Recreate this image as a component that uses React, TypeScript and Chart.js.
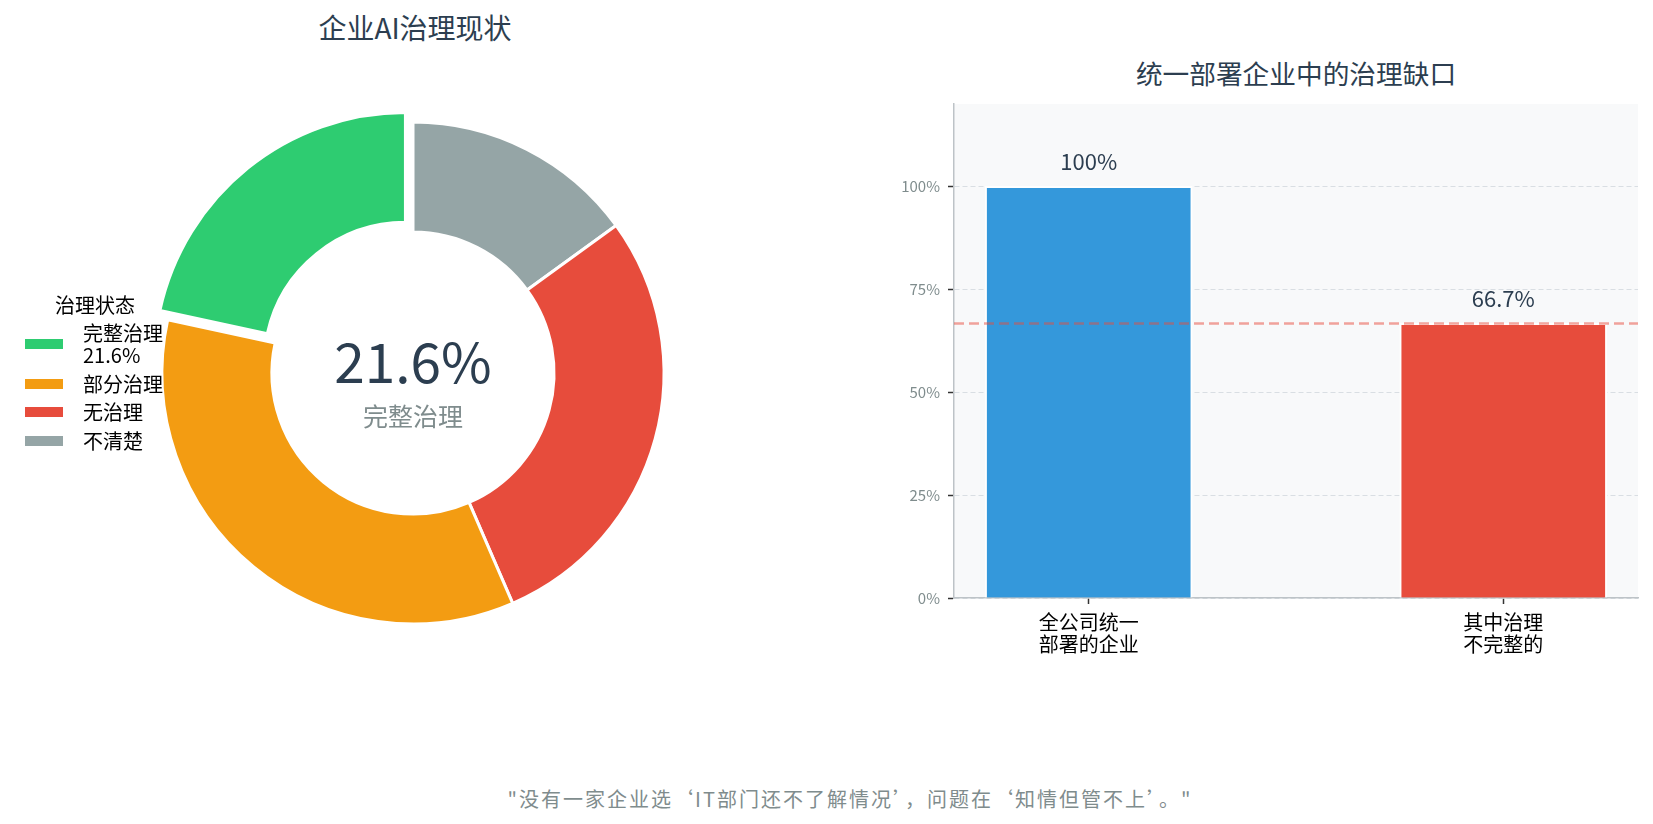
import { useEffect, useRef } from "react";
import { Chart, registerables } from "chart.js";
import type { Plugin } from "chart.js";

Chart.register(...registerables);

const FONT = '"Noto Sans CJK SC", "Noto Sans", sans-serif';
Chart.defaults.font.family = FONT;

// left: governance status share (%)
const statusLabels = ["完整治理", "部分治理", "无治理", "不清楚"];
const statusValues = [21.6, 34.9, 28.5, 15.0];
const statusColors = ["#2ecc71", "#f39c12", "#e74c3c", "#95a5a6"];

// right: gap inside companies with unified deployment (%)
const gapCategories = [
  ["全公司统一", "部署的企业"],
  ["其中治理", "不完整的"]
];
const gapValues = [100, 66.7];
const gapColors = ["#3498db", "#e74c3c"];
const gapLineValue = 66.7;
const yTickValues = [0, 25, 50, 75, 100];

const dark = "#2c3e50";
const muted = "#7f8c8d";

const plotBackground: Plugin<"bar"> = {
  id: "plotBackground",
  beforeDraw(chart) {
    const { ctx, chartArea } = chart;
    ctx.save();
    ctx.fillStyle = "#f8f9fa";
    ctx.fillRect(chartArea.left, chartArea.top, chartArea.width, chartArea.height);
    ctx.restore();
  }
};

const gapLine: Plugin<"bar"> = {
  id: "gapLine",
  afterDatasetsDraw(chart) {
    const { ctx, chartArea } = chart;
    const y = chart.scales.y.getPixelForValue(gapLineValue);
    ctx.save();
    ctx.strokeStyle = "rgba(231, 76, 60, 0.5)";
    ctx.lineWidth = 2.5;
    ctx.setLineDash([10, 5]);
    ctx.beginPath();
    ctx.moveTo(chartArea.left, y);
    ctx.lineTo(chartArea.right, y);
    ctx.stroke();
    ctx.restore();
  }
};

const valueLabels: Plugin<"bar"> = {
  id: "valueLabels",
  afterDatasetsDraw(chart) {
    const { ctx } = chart;
    const meta = chart.getDatasetMeta(0);
    ctx.save();
    ctx.fillStyle = dark;
    ctx.font = `22px ${FONT}`;
    ctx.textAlign = "center";
    ctx.textBaseline = "middle";
    meta.data.forEach((bar, i) => {
      ctx.fillText(`${gapValues[i]}%`, bar.x, bar.y - 25);
    });
    ctx.restore();
  }
};

function GovernanceDonut() {
  const canvasRef = useRef<HTMLCanvasElement | null>(null);

  useEffect(() => {
    if (!canvasRef.current) {
      return undefined;
    }
    // reference runs counter-clockwise from 12 o'clock, Chart.js runs clockwise
    const order = statusValues.map((_, i) => statusValues.length - 1 - i);
    const chart = new Chart(canvasRef.current, {
      type: "doughnut",
      data: {
        labels: order.map((i) => statusLabels[i]),
        datasets: [
          {
            data: order.map((i) => statusValues[i]),
            backgroundColor: order.map((i) => statusColors[i]),
            borderColor: "#ffffff",
            borderWidth: 3,
            // arc offset is divided by 4 when drawn
            offset: order.map((i) => (i === 0 ? 48 : 0))
          }
        ]
      },
      options: {
        responsive: true,
        maintainAspectRatio: false,
        animation: false,
        radius: 251,
        cutout: "56.2%",
        layout: { padding: 0 },
        plugins: { legend: { display: false }, tooltip: { enabled: false } }
      }
    });
    return () => chart.destroy();
  }, []);

  return (
    <>
      <div style={{ position: "absolute", left: 0, top: 93, width: 826, height: 560 }}>
        <canvas ref={canvasRef} aria-label="企业AI治理现状" />
      </div>
      <div
        style={{
          position: "absolute",
          left: 263,
          top: 331,
          width: 300,
          textAlign: "center",
          fontSize: 55,
          lineHeight: "56px",
          color: dark
        }}
      >
        {statusValues[0]}%
      </div>
      <div
        style={{
          position: "absolute",
          left: 263,
          top: 402,
          width: 300,
          textAlign: "center",
          fontSize: 25,
          lineHeight: "26px",
          color: muted
        }}
      >
        {statusLabels[0]}
      </div>
      <div
        style={{
          position: "absolute",
          left: 25,
          top: 294,
          width: 140,
          fontSize: 20,
          lineHeight: "22px",
          color: "#000"
        }}
      >
        <div style={{ textAlign: "center", marginBottom: 6 }}>治理状态</div>
        {statusLabels.map((label, i) => (
          <div key={label} style={{ display: "flex", alignItems: "center", marginBottom: 6.5 }}>
            <span
              style={{ width: 38, height: 10, background: statusColors[i], marginRight: 20, flex: "none" }}
            />
            <span style={{ whiteSpace: "nowrap" }}>
              {label}
              {i === 0 && (
                <>
                  <br />
                  {statusValues[0]}%
                </>
              )}
            </span>
          </div>
        ))}
      </div>
    </>
  );
}

function GapBars() {
  const canvasRef = useRef<HTMLCanvasElement | null>(null);

  useEffect(() => {
    if (!canvasRef.current) {
      return undefined;
    }
    const chart = new Chart(canvasRef.current, {
      type: "bar",
      data: {
        datasets: [
          {
            data: gapValues.map((v, i) => ({ x: i, y: v })),
            backgroundColor: gapColors,
            borderColor: "#ffffff",
            borderWidth: 2,
            borderSkipped: "start",
            barThickness: 207
          }
        ]
      },
      options: {
        responsive: true,
        maintainAspectRatio: false,
        animation: false,
        layout: { padding: { top: 10, right: 15, left: 0, bottom: 0 } },
        plugins: { legend: { display: false }, tooltip: { enabled: false } },
        scales: {
          x: {
            type: "linear",
            min: -0.325,
            max: 1.325,
            offset: false,
            afterBuildTicks: (scale) => {
              scale.ticks = gapCategories.map((_, i) => ({ value: i }));
            },
            afterFit: (scale) => {
              scale.height = 90;
            },
            ticks: {
              callback: (value) => gapCategories[Number(value)] ?? "",
              color: "#000",
              font: { size: 20, lineHeight: 1.12 },
              padding: 7,
              maxRotation: 0,
              autoSkip: false
            },
            grid: {
              offset: false,
              drawOnChartArea: false,
              tickLength: 6,
              tickColor: "#333",
              tickWidth: 1.5
            },
            border: { color: "#bdc3c7", width: 1.5 }
          },
          y: {
            min: 0,
            max: 120,
            afterBuildTicks: (scale) => {
              scale.ticks = yTickValues.map((v) => ({ value: v }));
            },
            afterFit: (scale) => {
              scale.width = 64;
            },
            ticks: {
              callback: (value) => `${value}%`,
              color: muted,
              font: { size: 15 },
              padding: 8
            },
            grid: { color: "#d9dee3", lineWidth: 1, tickLength: 6, tickColor: "#333", tickWidth: 1.5 },
            border: { color: "#bdc3c7", width: 1.5, dash: [5, 3] }
          }
        }
      },
      plugins: [plotBackground, gapLine, valueLabels]
    });
    return () => chart.destroy();
  }, []);

  return (
    <div style={{ position: "absolute", left: 890, top: 87, width: 763, height: 601 }}>
      <canvas ref={canvasRef} aria-label="统一部署企业中的治理缺口" />
    </div>
  );
}

export default function App() {
  return (
    <div
      style={{
        position: "absolute",
        left: 0,
        top: 0,
        width: 1653,
        height: 824,
        background: "#ffffff",
        fontFamily: FONT,
        overflow: "hidden"
      }}
    >
      <div
        style={{
          position: "absolute",
          left: 115,
          top: 8,
          width: 600,
          textAlign: "center",
          fontSize: 28,
          lineHeight: "38px",
          color: dark
        }}
      >
        企业AI治理现状
      </div>
      <div
        style={{
          position: "absolute",
          left: 996,
          top: 55,
          width: 600,
          textAlign: "center",
          fontSize: 26.7,
          lineHeight: "36px",
          color: dark
        }}
      >
        统一部署企业中的治理缺口
      </div>
      <GovernanceDonut />
      <GapBars />
      <div
        style={{
          position: "absolute",
          left: 450,
          top: 786,
          width: 800,
          textAlign: "center",
          fontSize: 20,
          lineHeight: "26px",
          letterSpacing: 2,
          color: muted
        }}
      >
        "没有一家企业选‘IT部门还不了解情况’，问题在‘知情但管不上’。"
      </div>
    </div>
  );
}
